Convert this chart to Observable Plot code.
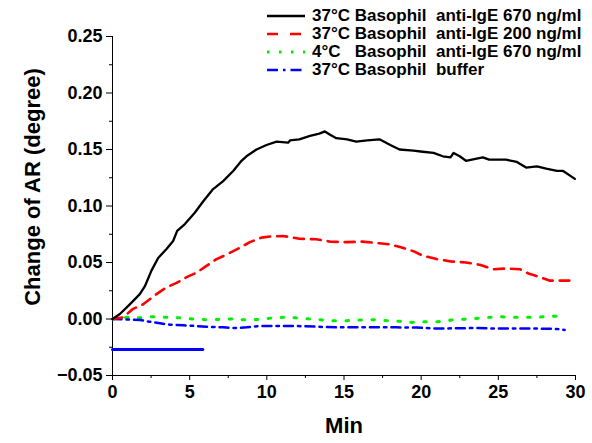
<!DOCTYPE html>
<html><head><meta charset="utf-8">
<script src="https://cdn.jsdelivr.net/npm/d3@7"></script>
<script src="https://cdn.jsdelivr.net/npm/@observablehq/plot@0.6"></script>
<style>
body{margin:0;background:#fff}
#wrap{position:relative;width:592px;height:443px;font-family:"Liberation Sans",Arial,sans-serif;font-weight:bold}
#legend{position:absolute;left:267px;top:7px;font-size:17px;color:#000}
.row{display:flex;align-items:center;height:18px;white-space:pre}
.row svg{margin-right:7px}
</style></head>
<body><div id="wrap"><div id="legend"></div></div>
<script>
// Series names / styles
const seriesNames = ["37°C Basophil  anti-IgE 670 ng/ml","37°C Basophil  anti-IgE 200 ng/ml","4°C   Basophil  anti-IgE 670 ng/ml","37°C Basophil  buffer"];
const seriesColors = ["#000000","#ff0000","#00ee00","#0000ff"];

// Black: 37°C anti-IgE 670
const t1 = [0,0.48,1.12,1.77,2.1,2.53,2.96,3.5,3.93,4.19,4.69,5.33,5.87,6.52,7.17,7.82,8.36,8.68,9.33,9.98,10.63,11.38,11.5,12.1,12.8,13.4,13.76,14.1,14.5,15.2,15.8,16.5,17.3,18.0,18.6,19.5,20.1,20.8,21.4,21.9,22.1,22.5,22.9,23.6,24.0,24.4,25.5,26.2,26.8,27.5,28.1,28.8,29.2,29.96];
const v1 = [0,0.0044,0.013,0.022,0.029,0.043,0.054,0.062,0.069,0.078,0.084,0.094,0.104,0.115,0.122,0.131,0.140,0.144,0.150,0.154,0.157,0.156,0.158,0.159,0.162,0.164,0.166,0.163,0.160,0.159,0.157,0.158,0.159,0.154,0.150,0.149,0.148,0.147,0.144,0.143,0.147,0.144,0.140,0.142,0.143,0.141,0.141,0.139,0.134,0.135,0.133,0.131,0.131,0.124];
// Red: 37°C anti-IgE 200
const t2 = [0,0.7,1.34,1.99,2.85,3.5,4.15,4.8,5.44,6.09,6.74,7.39,8.25,8.9,9.65,10.2,11.06,12.1,13.2,14.1,15.2,16.2,17.3,18.0,18.8,19.5,20.1,21.0,21.9,22.9,23.8,24.7,25.5,26.4,27.0,27.7,28.3,29.0,29.6];
const v2 = [0,0.0015,0.009,0.013,0.022,0.028,0.032,0.037,0.041,0.047,0.053,0.057,0.063,0.068,0.072,0.073,0.0735,0.071,0.0706,0.0685,0.068,0.0685,0.067,0.066,0.063,0.060,0.056,0.053,0.051,0.050,0.048,0.044,0.0447,0.044,0.040,0.037,0.034,0.034,0.034];
// Green: 4°C anti-IgE 670
const t3 = [0,0.9,1.8,2.6,3.5,4.4,5.2,6.1,7.0,7.8,8.7,9.5,10.4,11.1,11.9,12.6,13.4,14.3,15.2,16.0,16.9,17.8,18.6,19.4,20.1,21.1,21.97,22.7,23.4,24.1,25.0,25.9,26.7,27.6,28.4,29.3];
const v3 = [0,0.0015,0.001,0.002,0.0015,0.001,0,-0.0006,-0.0003,0,-0.0009,-0.0003,0.001,0.0015,0.001,0.0003,-0.0006,-0.0015,-0.0015,-0.0009,-0.0006,-0.0015,-0.002,-0.003,-0.0024,-0.0024,-0.0009,-0.0003,0.0003,0.0012,0.002,0.0015,0.0015,0.0015,0.0026,0.002];
// Blue: 37°C buffer
const t4 = [0,0.7,1.8,2.4,3.07,3.7,4.6,5.4,6.1,7.2,7.8,8.7,9.5,10.6,11.9,13.2,14.5,15.8,17.1,18.4,19.7,21.0,22.3,23.6,24.9,26.2,27.5,28.8,29.3];
const v4 = [0,-0.0003,-0.0009,-0.0024,-0.0038,-0.005,-0.0056,-0.0062,-0.0068,-0.0074,-0.008,-0.0074,-0.0062,-0.0062,-0.0062,-0.0068,-0.0074,-0.0074,-0.0074,-0.0074,-0.0076,-0.0085,-0.0082,-0.008,-0.0085,-0.0085,-0.0085,-0.0088,-0.0097];
// Blue solid segment near bottom
const segT = [0,5.85];
const segV = [-0.027,-0.027];

const xMajor = [0,5,10,15,20,25,30];
const xMinor = [2.5,7.5,12.5,17.5,22.5,27.5];
const yMajor = [-0.05,0,0.05,0.1,0.15,0.2,0.25];
const yMinor = [-0.025,0.025,0.075,0.125,0.175,0.225];

const dashes = [null,"10,7","2.5,10.5","9,5,2.5,5"];
const widths = [2.3,2.6,3,2.5];
const tables = [[t1,v1],[t2,v2],[t3,v3],[t4,v4]].map(([t,v]) => t.map((x,i)=>({x, y:v[i]})));
const seg = segT.map((x,i)=>({x, y:segV[i]}));

const lineMarks = [2,3,1,0].map(k => Plot.line(tables[k], {x:"x", y:"y", stroke: seriesColors[k], strokeWidth: widths[k], strokeDasharray: dashes[k] || undefined}));

const chart = Plot.plot({
  width: 592, height: 443,
  marginLeft: 112, marginRight: 17, marginTop: 36, marginBottom: 68,
  style: {fontFamily: '"Liberation Sans", Arial, sans-serif', fontWeight: "bold", fontSize: "18px", background: "#fff", overflow: "visible"},
  x: {domain: [0,30]},
  y: {domain: [-0.05,0.25]},
  marks: [
    Plot.axisX({ticks: xMinor, tickSize: 3, tickFormat: () => "", label: null}),
    Plot.axisX({ticks: xMajor, tickSize: 5, tickPadding: 5, tickFormat: d => String(d), label: null}),
    Plot.axisY({ticks: yMinor, tickSize: 3, tickFormat: () => "", label: null}),
    Plot.axisY({ticks: yMajor, tickSize: 6, tickPadding: 4, tickFormat: d3.format(".2f"), label: null}),
    Plot.ruleX([0], {stroke: "#000", strokeWidth: 1}),
    Plot.ruleY([-0.05], {stroke: "#000", strokeWidth: 1}),
    ...lineMarks,
    Plot.line(seg, {x:"x", y:"y", stroke: "#0000ff", strokeWidth: 3}),
    Plot.text(["Change of AR (degree)"], {frameAnchor: "left", textAnchor: "middle", rotate: -90, dx: -80, dy: -19, fontSize: 22, fontWeight: "bold"}),
    Plot.text(["Min"], {frameAnchor: "bottom", lineAnchor: "top", dy: 42, fontSize: 22, fontWeight: "bold"})
  ]
});
document.getElementById("wrap").prepend(chart);

const legend = document.getElementById("legend");
seriesNames.forEach((name, k) => {
  const row = document.createElement("div");
  row.className = "row";
  const ns = "http://www.w3.org/2000/svg";
  const s = document.createElementNS(ns, "svg");
  s.setAttribute("width", 38); s.setAttribute("height", 8);
  const l = document.createElementNS(ns, "line");
  l.setAttribute("x1", 0); l.setAttribute("x2", 38); l.setAttribute("y1", 4); l.setAttribute("y2", 4);
  l.setAttribute("stroke", seriesColors[k]); l.setAttribute("stroke-width", widths[k]);
  if (dashes[k]) l.setAttribute("stroke-dasharray", k === 1 ? "11,12" : k === 2 ? "2.5,9.5" : "11,5,2.5,5");
  s.appendChild(l);
  row.appendChild(s);
  const span = document.createElement("span");
  span.textContent = name;
  row.appendChild(span);
  legend.appendChild(row);
});
</script>
</body></html>
